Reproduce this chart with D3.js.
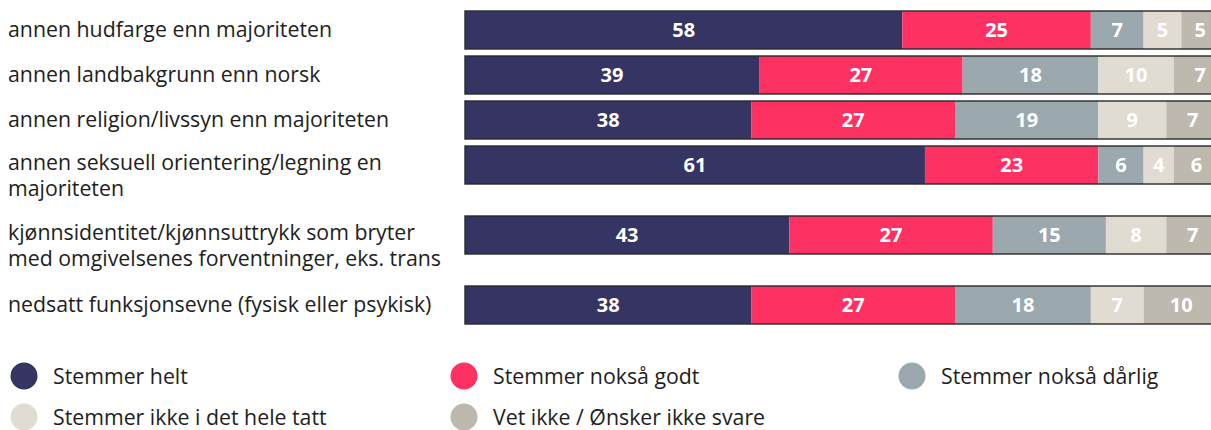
<!DOCTYPE html>
<html>
<head>
<meta charset="utf-8">
<script src="https://cdn.jsdelivr.net/npm/d3@7"></script>
<style>
  html, body { margin: 0; padding: 0; background: #fff; }
  svg { display: block; font-family: "Open Sans", sans-serif; }
</style>
</head>
<body>
<svg id="chart" width="1211" height="430"></svg>
<script>
const categories = [
  ["annen hudfarge enn majoriteten"],
  ["annen landbakgrunn enn norsk"],
  ["annen religion/livssyn enn majoriteten"],
  ["annen seksuell orientering/legning en", "majoriteten"],
  ["kjønnsidentitet/kjønnsuttrykk som bryter", "med omgivelsenes forventninger, eks. trans"],
  ["nedsatt funksjonsevne (fysisk eller psykisk)"]
];
const seriesNames = ["Stemmer helt", "Stemmer nokså godt", "Stemmer nokså dårlig", "Stemmer ikke i det hele tatt", "Vet ikke / Ønsker ikke svare"];
const stemmerHelt     = [58, 39, 38, 61, 43, 38];
const stemmerGodt     = [25, 27, 27, 23, 27, 27];
const stemmerDarlig   = [7, 18, 19, 6, 15, 18];
const stemmerIkke     = [5, 10, 9, 4, 8, 7];
const vetIkke         = [5, 7, 7, 6, 7, 10];
const colors = ["#353462", "#fe3163", "#9ba8ae", "#e0dcd2", "#bdb9ae"];

const series = [stemmerHelt, stemmerGodt, stemmerDarlig, stemmerIkke, vetIkke];
const rows = categories.map((c, i) => {
  const obj = { label: c, idx: i };
  seriesNames.forEach((s, j) => obj[s] = series[j][i]);
  return obj;
});
const stacked = d3.stack().keys(seriesNames)(rows);

const svg = d3.select("#chart");
const x = d3.scaleLinear().domain([0, 100]).range([465, 1219]);

// row layout: each row occupies 1 unit + extra per additional label line
const units = [];
let acc = 0;
categories.forEach(c => { units.push(acc); acc += 1 + (c.length - 1) * 25 / 45; });
const y = d3.scaleLinear().domain([0, acc]).range([11, 11 + acc * 45]);
const barH = 38;

const g = svg.append("g");
stacked.forEach((layer, j) => {
  g.selectAll(null).data(layer).enter().append("rect")
    .attr("x", d => x(d[0]))
    .attr("y", (d, i) => y(units[i]))
    .attr("width", d => x(d[1]) - x(d[0]))
    .attr("height", barH)
    .attr("fill", colors[j]);
});
// outline
g.selectAll(null).data(rows).enter().append("rect")
  .attr("x", x(0))
  .attr("y", (d, i) => y(units[i]))
  .attr("width", (d, i) => x(d3.sum(series, s => s[i])) - x(0))
  .attr("height", barH)
  .attr("fill", "none")
  .attr("stroke", "#2a2a2a")
  .attr("stroke-width", 1.4);

// value labels
stacked.forEach((layer, j) => {
  g.selectAll(null).data(layer).enter().append("text")
    .attr("x", d => (x(d[0]) + x(d[1])) / 2)
    .attr("y", (d, i) => y(units[i]) + barH / 2)
    .attr("dy", "0.36em")
    .attr("text-anchor", "middle")
    .attr("fill", "#fff")
    .attr("font-weight", 700)
    .attr("font-size", 20)
    .text(d => d.data[seriesNames[j]]);
});

// category labels
const lab = svg.append("g");
rows.forEach((r, i) => {
  const t = lab.append("text")
    .attr("x", 8)
    .attr("y", y(units[i]) + barH / 2 + (r.label.length > 1 ? 4.5 : 6.5))
    .attr("font-size", 21.3)
    .attr("fill", "#1e1e1e");
  r.label.forEach((line, k) => {
    t.append("tspan").attr("x", 8).attr("dy", k === 0 ? 0 : 26.5).text(line);
  });
});

// legend
const legendPos = [[24, 376], [464, 376], [912, 376], [24, 417], [464, 417]];
const leg = svg.append("g");
seriesNames.forEach((s, j) => {
  const [cx, cy] = legendPos[j];
  leg.append("circle").attr("cx", cx).attr("cy", cy).attr("r", 13.5).attr("fill", colors[j]);
  leg.append("text").attr("x", cx + 29).attr("y", cy + 8)
    .attr("font-size", 21.3).attr("fill", "#1e1e1e").text(s);
});
</script>
</body>
</html>
